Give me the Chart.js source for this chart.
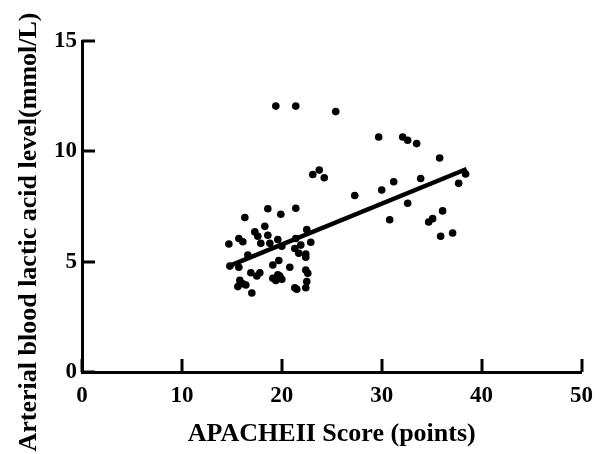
<!DOCTYPE html>
<html>
<head>
<meta charset="utf-8">
<script src="https://cdn.jsdelivr.net/npm/chart.js@4/dist/chart.umd.min.js"></script>
<style>
  body { margin: 0; background: #fff; }
  #wrap { width: 603px; height: 454px; }
</style>
</head>
<body>
<div id="wrap"><canvas id="myChart" width="603" height="454"></canvas></div>
<script>
// APACHE II score vs arterial lactate
const apacheScores = [
  25.4, 19.4, 21.4,
  29.7, 32.1, 32.6, 33.5, 35.8,
  23.1, 23.75, 24.25,
  27.3, 30.0, 31.2, 33.9, 37.7, 38.4,
  32.6, 30.8, 36.1, 35.1, 34.7, 35.9, 37.1,
  18.6, 21.4, 19.9, 16.3,
  18.3, 17.3, 17.6, 18.6, 22.5,
  14.7, 15.7, 16.1, 17.9, 18.8, 19.6, 20.0, 21.4, 21.9, 22.9,
  21.3, 21.7, 22.4, 22.4, 16.6,
  14.8, 15.7, 19.7, 19.1, 20.8, 22.4, 22.6,
  16.9, 17.8, 17.5, 15.8, 16.1, 16.4, 15.6, 17.0,
  19.1, 19.8, 19.4, 20.0, 19.6,
  21.3, 21.5, 22.4, 22.5
];
const lacticLevels = [
  11.8, 12.05, 12.05,
  10.65, 10.65, 10.5, 10.35, 9.7,
  8.95, 9.15, 8.8,
  8.0, 8.25, 8.62, 8.77, 8.55, 8.97,
  7.65, 6.9, 7.3, 6.95, 6.8, 6.15, 6.3,
  7.4, 7.42, 7.15, 7.0,
  6.6, 6.35, 6.15, 6.2, 6.45,
  5.8, 6.05, 5.9, 5.83, 5.83, 6.0, 5.7, 6.05, 5.75, 5.88,
  5.6, 5.38, 5.35, 5.2, 5.3,
  4.8, 4.75, 5.05, 4.85, 4.75, 4.62, 4.47,
  4.5, 4.5, 4.35, 4.15, 4.0, 3.94, 3.87, 3.58,
  4.25, 4.35, 4.15, 4.2, 4.4,
  3.82, 3.75, 3.82, 4.1
];
// fitted line end points
const fitX = [14.7, 38.5];
const fitY = [4.8, 9.2];

const xTicks = [0, 10, 20, 30, 40, 50];
const yTicks = [0, 5, 10, 15];

const xTitle = "APACHEII Score (points)";
const yTitle = "Arterial blood lactic acid level(mmol/L)";

const fontFam = "'Liberation Serif', 'Times New Roman', serif";

const scatterPoints = apacheScores.map((v, i) => ({ x: v, y: lacticLevels[i] }));
const fitPoints = fitX.map((v, i) => ({ x: v, y: fitY[i] }));

// tick marks point inward, and the y title is drawn centred on the canvas
const innerTicks = {
  id: "innerTicks",
  afterDraw(chart) {
    const ctx = chart.ctx;
    const xs = chart.scales.x, ys = chart.scales.y;
    const area = chart.chartArea;
    ctx.save();
    ctx.strokeStyle = "#000";
    ctx.lineWidth = 3;
    xTicks.forEach(t => {
      const px = Math.round(xs.getPixelForValue(t));
      ctx.beginPath();
      ctx.moveTo(px, area.bottom);
      ctx.lineTo(px, area.bottom - 13);
      ctx.stroke();
    });
    yTicks.forEach(t => {
      const py = Math.round(ys.getPixelForValue(t));
      ctx.beginPath();
      ctx.moveTo(area.left, py);
      ctx.lineTo(area.left + 13, py);
      ctx.stroke();
    });
    ctx.translate(29, 232);
    ctx.rotate(-Math.PI / 2);
    ctx.font = "bold 26px " + fontFam;
    ctx.fillStyle = "#000";
    ctx.textAlign = "center";
    ctx.textBaseline = "middle";
    ctx.fillText(yTitle, 0, 0);
    ctx.restore();
  }
};

const ctx = document.getElementById("myChart").getContext("2d");
const myChart = new Chart(ctx, {
  type: "scatter",
  data: {
    datasets: [
      {
        type: "line",
        data: fitPoints,
        borderColor: "#000",
        borderWidth: 4.5,
        pointRadius: 0,
        fill: false
      },
      {
        data: scatterPoints,
        backgroundColor: "#000",
        borderWidth: 0,
        pointRadius: 3.8
      }
    ]
  },
  options: {
    responsive: false,
    devicePixelRatio: 1,
    animation: false,
    layout: { padding: { top: 41, right: 20, left: 0, bottom: 0 } },
    plugins: { legend: { display: false }, tooltip: { enabled: false } },
    scales: {
      x: {
        type: "linear",
        min: 0,
        max: 50,
        afterBuildTicks: s => { s.ticks = xTicks.map(v => ({ value: v })); },
        afterFit: s => { s.height = 82; },
        grid: { display: false, drawTicks: false },
        border: { display: true, width: 3, color: "#000" },
        ticks: {
          color: "#000",
          padding: 10,
          maxRotation: 0,
          font: { family: fontFam, size: 23, weight: "bold" }
        },
        title: {
          display: true,
          text: xTitle,
          color: "#000",
          padding: { top: 0, bottom: 4 },
          font: { family: fontFam, size: 26, weight: "bold" }
        }
      },
      y: {
        type: "linear",
        min: 0,
        max: 15,
        afterBuildTicks: s => { s.ticks = yTicks.map(v => ({ value: v })); },
        afterFit: s => { s.width = 82; },
        grid: { display: false, drawTicks: false },
        border: { display: true, width: 3, color: "#000" },
        ticks: {
          color: "#000",
          padding: 5,
          font: { family: fontFam, size: 23, weight: "bold" }
        }
      }
    }
  },
  plugins: [innerTicks]
});
</script>
</body>
</html>
